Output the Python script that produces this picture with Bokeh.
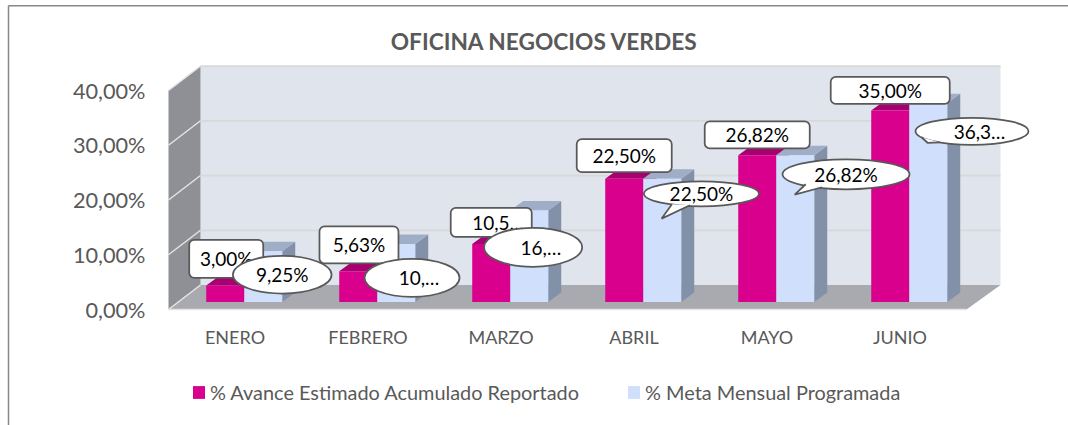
from bokeh.plotting import figure
from bokeh.embed import file_html
from bokeh.resources import INLINE
from bokeh.core.properties import value
from bokeh.models import FixedTicker, Legend, LegendItem

# ---- data ----
months = ["ENERO", "FEBRERO", "MARZO", "ABRIL", "MAYO", "JUNIO"]
avance = [3.00, 5.63, 10.59, 22.50, 26.82, 35.00]
meta = [9.25, 10.60, 16.70, 22.50, 26.82, 36.30]
avance_labels = ["3,00%", "5,63%", "10,5…", "22,50%", "26,82%", "35,00%"]
meta_labels = ["9,25%", "10,…", "16,…", "22,50%", "26,82%", "36,3…"]
y_ticks = [0, 10, 20, 30, 40]
y_tick_labels = ["0,00%", "10,00%", "20,00%", "30,00%", "40,00%"]
series_names = ["% Avance Estimado Acumulado Reportado", "% Meta Mensual Programada"]
title_text = "OFICINA NEGOCIOS VERDES"

# ---- layout constants (pixels) ----
W, H = 1068, 425
PX_X, PX_Y = 133.0, 5.475          # pixels per category / per percent
X0, Y0 = 168.0, 309.0              # canvas position of (0, 0)
ux = lambda px: px / PX_X
uy = lambda px: px / PX_Y
WALL_X, WALL_Y = ux(32), uy(24.5)  # chart depth
BAR_SX, BAR_SY = ux(9.8), uy(7.5)  # bars' position in depth
BAR_DX, BAR_DY = ux(13), uy(9.5)   # bar depth
BAR_W = ux(38)
BAR_OFF = 0.21
x_end_front = len(months)
y_top = y_ticks[-1]

PINK, PINK_TOP = "#D9008D", "#A80070"
BLUE, BLUE_TOP, BLUE_SIDE = "#CFDFFC", "#9FADC6", "#8290A8"
TEXT = "#595959"
STROKE = "#595959"
FONT = "Lato"

p = figure(width=W, height=H, output_backend="svg", toolbar_location=None,
           x_range=(-X0 / PX_X, (W - X0) / PX_X),
           y_range=(-(H - Y0) / PX_Y, Y0 / PX_Y),
           min_border=0, background_fill_color="white", border_fill_color="white",
           outline_line_color=None)
p.grid.visible = False

# ---- chart frame border ----
xs, xe = p.x_range.start, p.x_range.end
ys, ye = p.y_range.start, p.y_range.end
bx_l = xs + ux(8)
by_t = ye - uy(5.2)
p.segment([bx_l, bx_l], [by_t, by_t], [xe, bx_l], [by_t, ys], line_color="#888888", line_width=1.5)

# ---- walls and floor ----
wall_right = x_end_front + WALL_X + ux(2)
p.quad(left=WALL_X, right=wall_right, bottom=WALL_Y, top=y_top + WALL_Y,
       fill_color="#E0E4EC", line_color=None)
p.patch([0, WALL_X, WALL_X, 0], [y_top, y_top + WALL_Y, WALL_Y, 0], fill_color="#8F9095", line_color=None)
p.patch([0, WALL_X, wall_right, x_end_front], [0, WALL_Y, WALL_Y, 0], fill_color="#A9AAB0", line_color=None)
for t in y_ticks[1:]:
    p.line([0, WALL_X], [t, t + WALL_Y], line_color="#E4E4E4", line_width=1.5)
    p.line([WALL_X, wall_right], [t + WALL_Y, t + WALL_Y], line_color="#D8D8D8", line_width=1.75)
p.line([0, x_end_front], [0, 0], line_color="#E4E4E4", line_width=1.5)
p.line([0, WALL_X], [0, WALL_Y], line_color="#E4E4E4", line_width=1.5)


# ---- 3-D bars ----
base_y = BAR_SY


def bars(vals, shift, front, top, side):
    lefts = [i + BAR_OFF + BAR_SX + shift for i in range(len(vals))]
    rights = [l + BAR_W for l in lefts]
    tops = [v + base_y for v in vals]
    p.patches([[r, r + BAR_DX, r + BAR_DX, r] for r in rights],
              [[base_y, base_y + BAR_DY, t + BAR_DY, t] for t in tops],
              fill_color=side, line_color=None)
    p.patches([[l, l + BAR_DX, r + BAR_DX, r] for l, r in zip(lefts, rights)],
              [[t, t + BAR_DY, t + BAR_DY, t] for t in tops],
              fill_color=top, line_color=None)
    r = p.quad(left=lefts, right=rights, bottom=[base_y] * len(vals), top=tops,
               fill_color=front, line_color=None)
    return r, lefts, rights


r_a, la, ra = bars(avance, 0, PINK, PINK_TOP, PINK_TOP)
r_m, lm, rm = bars(meta, BAR_W, BLUE, BLUE_TOP, BLUE_SIDE)

# ---- callouts, placed relative to the top of their bar (offsets in px) ----
box_off = [(1, -26.8), (0.75, -26.25), (0, -21.7), (0, -23.15), (0, -20.25), (0, -20)]
box_size = [(74, 38), (79, 37), (81, 29), (95, 33), (105, 27), (119, 27)]
box_text_dx = [0, 0, 6.8, 0, 0, 0]
ell_off = [(19, 23.4), (15.8, 33.8), (3.9, 36.7), (39.2, 15), (50.8, 19.1), (43.8, 28)]
ell_size = [(98.7, 37.6), (95, 38), (98, 39), (115, 25), (127, 30), (113, 27)]
ell_text_dx = [0, 7, 7.7, 0, 0, 7.5]
tails = {3: [(-29.5, 10.5), (-39.8, 24.8), (-11.5, 11.5)],
         4: [(-40.3, 10), (-51.3, 20.3), (-24, 13)],
         5: [(-50.5, 6), (-44.5, 11.5), (-32.5, 11)]}

ax = [(l + r) / 2 for l, r in zip(la, ra)]
ay = [v + base_y for v in avance]
bx = [(l + r) / 2 for l, r in zip(lm, rm)]
by = [v + base_y for v in meta]

box_x = [a + ux(o[0]) for a, o in zip(ax, box_off)]
box_y = [a - uy(o[1]) for a, o in zip(ay, box_off)]
p.rect(box_x, box_y, width=[s[0] for s in box_size], height=[s[1] for s in box_size],
       width_units="screen", height_units="screen", border_radius=5,
       fill_color="white", line_color=STROKE, line_width=1.75)
p.text([x + ux(d) for x, d in zip(box_x, box_text_dx)], box_y, text=avance_labels,
       text_font=value(FONT), text_font_size="19px", text_color="black",
       text_align="center", text_baseline="middle")

ell_x = [a + ux(o[0]) for a, o in zip(bx, ell_off)]
ell_y = [a - uy(o[1]) for a, o in zip(by, ell_off)]
p.ellipse(ell_x, ell_y, width=[s[0] for s in ell_size], height=[s[1] for s in ell_size],
          width_units="screen", height_units="screen",
          fill_color="white", line_color=STROKE, line_width=1.75)
for i, pts in tails.items():
    tx = [ell_x[i] + ux(q[0]) for q in pts]
    ty = [ell_y[i] - uy(q[1]) for q in pts]
    p.patch(tx, ty, fill_color="white", line_color=None)
    p.line(tx, ty, line_color=STROKE, line_width=1.75)
p.text([x + ux(d) for x, d in zip(ell_x, ell_text_dx)], ell_y, text=meta_labels,
       text_font=value(FONT), text_font_size="19px", text_color="black",
       text_align="center", text_baseline="middle")

# ---- title ----
p.text([ux(544 - X0)], [uy(Y0 - 41)], text=[title_text], text_font=value(FONT),
       text_font_size="22.7px", text_font_style="bold", text_color=TEXT,
       text_align="center", text_baseline="middle")

# ---- axes, fixed on the chart's front plane ----
yax = p.yaxis[0]
yax.fixed_location = 0
yax.ticker = FixedTicker(ticks=y_ticks)
yax.major_label_overrides = dict(zip(y_ticks, y_tick_labels))
yax.axis_line_color = None
yax.major_tick_line_color = None
yax.minor_tick_line_color = None
yax.major_label_standoff = 17
yax.major_label_text_font = FONT
yax.major_label_text_font_size = "21.7px"
yax.major_label_text_color = TEXT

xax = p.xaxis[0]
xax.fixed_location = 0
centers = [i + 0.5 for i in range(len(months))]
xax.ticker = FixedTicker(ticks=centers)
xax.major_label_overrides = dict(zip(centers, months))
xax.axis_line_color = None
xax.major_tick_line_color = None
xax.minor_tick_line_color = None
xax.major_label_standoff = 10
xax.major_label_text_font = FONT
xax.major_label_text_font_size = "18px"
xax.major_label_text_color = TEXT

# ---- legend ----
legend = Legend(items=[LegendItem(label=series_names[0], renderers=[r_a]),
                       LegendItem(label=series_names[1], renderers=[r_m])],
                orientation="horizontal", location=(191, 21),
                border_line_color=None, background_fill_alpha=0,
                glyph_width=15, glyph_height=16, label_standoff=4, spacing=47,
                padding=0, margin=0,
                label_text_font=FONT, label_text_font_size="19.9px", label_text_color=TEXT)
p.add_layout(legend, "center")

open("out.html", "w").write(file_html(p, INLINE))
